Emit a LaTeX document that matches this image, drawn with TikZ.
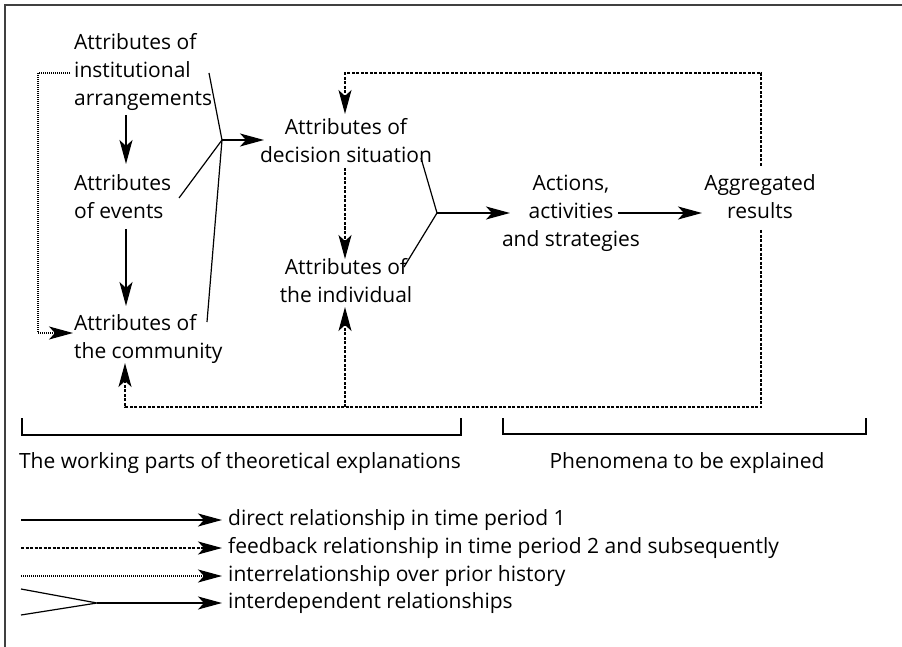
\documentclass[tikz,border=0pt]{standalone}
\usepackage{fontspec}
\setmainfont{Open Sans}
\usetikzlibrary{arrows.meta}
\begin{document}
\begin{tikzpicture}[x=1pt,y=-1pt,
  tip/.tip={Stealth[length=24pt,width=13pt,inset=6pt]},
  lbl/.style={inner sep=0pt, font=\fontsize{21}{28}\selectfont},
  arr/.style={line width=1.2pt, -tip},
  plain/.style={line width=1.2pt},
  fb/.style={line width=1.15pt, dash pattern=on 3pt off 1.5pt, -tip},
  hist/.style={line width=1.1pt, dash pattern=on 1pt off 1pt, -tip},
  brk/.style={line width=1.1pt}]
\useasboundingbox (0,0) rectangle (902,647);
\draw[line width=2pt, black!75] (5,647) -- (5,5) -- (902,5);

% nodes
\node[lbl, align=left, anchor=west] (inst) at (74,72) {\strut Attributes of\\\strut institutional\\\strut arrangements};
\node[lbl, align=left, anchor=west] (events) at (74,199) {\strut Attributes\\\strut of events};
\node[lbl, align=left, anchor=west] (comm) at (74,339) {\strut Attributes of\\\strut the community};
\node[lbl, align=center] (dec) at (346,142.5) {\strut Attributes of\\\strut decision situation};
\node[lbl, align=center] (ind) at (346,282.5) {\strut Attributes of\\\strut the individual};
\node[lbl, align=center] (act) at (571,213) {\strut Actions,\\\strut activities\\\strut and strategies};
\node[lbl, align=center] (agg) at (760,199) {\strut Aggregated\\\strut results};

% helper coordinates
\coordinate (J1) at (222,140);
\coordinate (J2) at (437,213);
\coordinate (instE) at (209,73);
\coordinate (evE) at (179,198);
\coordinate (comE) at (207,322);
\coordinate (decE) at (421,158);
\coordinate (indE) at (404,267);

% direct arrows
\draw[arr] (126,115) -- (126,164);
\draw[arr] (126,229) -- (126,306);
\draw[plain] (instE) -- (J1) -- (evE);
\draw[plain] (comE) -- (J1);
\draw[arr] (J1) -- (264,140);
\draw[plain] (decE) -- (J2) -- (indE);
\draw[arr] (J2) -- (510,213);
\draw[arr] (618,213) -- (702,213);

% prior history
\draw[hist] (70,73) -- (38,73) -- (38,333) -- (73,333);

% feedback
\draw[fb] (761,166) -- (761,73) -- (345,73) -- (345,114);
\draw[fb] (345,168) -- (345,259);
\draw[fb] (761,230) -- (761,407) -- (125,407) -- (125,363);
\draw[fb] (345,407) -- (345,307);

% brackets
\draw[brk] (22,418) -- (22,435) -- (461,435) -- (461,418);
\draw[brk] (503,418) -- (503,434) -- (866,434) -- (866,418);
\node[lbl, anchor=base] (wp) at (240,468) {The working parts of theoretical explanations};
\node[lbl, anchor=base] (ph) at (687,468) {Phenomena to be explained};

% legend
\draw[arr] (21,520) -- (222,520);
\draw[fb] (21,548) -- (222,548);
\draw[hist] (21,576) -- (222,576);
\draw[plain] (21,589) -- (97,603) -- (21,615);
\draw[arr] (97,603) -- (222,603);
\node[lbl, anchor=base west] (l1) at (228,525) {direct relationship in time period 1};
\node[lbl, anchor=base west] (l2) at (228,553) {feedback relationship in time period 2 and subsequently};
\node[lbl, anchor=base west] (l3) at (228,581) {interrelationship over prior history};
\node[lbl, anchor=base west] (l4) at (228,608) {interdependent relationships};
\end{tikzpicture}
\end{document}
